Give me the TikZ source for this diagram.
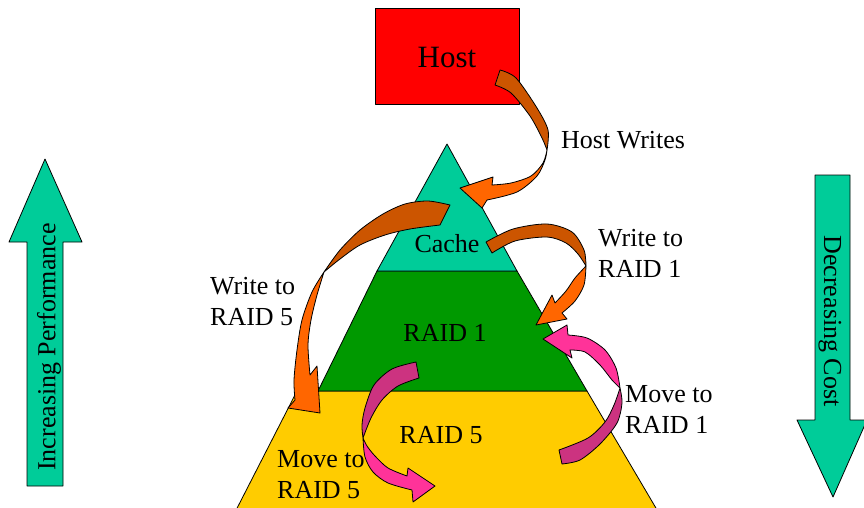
\documentclass[tikz,border=0pt]{standalone}
\usepackage{fontspec}
\setmainfont{Liberation Serif}
\definecolor{hostred}{RGB}{255,0,0}
\definecolor{cacheteal}{RGB}{0,204,153}
\definecolor{raidgreen}{RGB}{0,153,0}
\definecolor{raidyellow}{RGB}{255,204,0}
\definecolor{backorange}{RGB}{204,85,0}
\definecolor{frontorange}{RGB}{255,102,0}
\definecolor{backpink}{RGB}{204,51,128}
\definecolor{frontpink}{RGB}{255,51,153}
\tikzset{
    lbl/.style={font=\fontsize{26}{31}\selectfont, inner sep=0pt, align=left},
    band/.style={draw=black, line width=0.8pt, line join=round},
}

\begin{document}
\begin{tikzpicture}[x=1pt, y=-1pt]
        \clip (0, 0) rectangle (864, 508);
        % pyramid
        \filldraw [band, fill=raidyellow] (297, 391) -- (587, 391) -- (663, 520) -- (231, 520) -- cycle;
        \filldraw [band, fill=raidgreen] (377, 271) -- (517, 271) -- (587, 391) -- (318, 391) -- cycle;
        \filldraw [band, fill=cacheteal] (447, 144) -- (517, 271) -- (377, 271) -- cycle;
        \node [lbl, anchor=base] (cache) at (447, 252) {Cache};
        \node [lbl, anchor=base] (raid1) at (445, 341) {RAID 1};
        \node [lbl, anchor=base] (raid5) at (441, 443) {RAID 5};
        % host
        \filldraw [band, fill=hostred] (375, 8) rectangle (519, 104);
        \node [font=\fontsize{31}{36}\selectfont, inner sep=0pt] (host) at (447, 58) {Host};
        % side arrows
        \filldraw [band, fill=cacheteal] (27, 486) -- (27, 242) -- (9, 242) -- (45, 159) -- (82, 242) -- (63, 242) -- (63, 486) -- cycle;
        \node [lbl, rotate=90] (perf) at (49, 347) {Increasing Performance};
        \filldraw [band, fill=cacheteal] (815, 175) -- (850, 175) -- (850, 420) -- (867, 420) -- (833, 497) -- (797, 420) -- (815, 420) -- cycle;
        \node [lbl, rotate=-90] (cost) at (830, 321) {Decreasing Cost};
        % host writes
        \filldraw [band, fill=backorange] plot [smooth] coordinates {(500, 70) (516, 78) (537, 108) (548, 130) (547, 150)}
            -- plot [smooth] coordinates {(547, 150) (542, 138) (530, 116) (511, 93) (495, 85)} -- cycle;
        \filldraw [band, fill=frontorange] plot [smooth] coordinates {(547, 150) (543, 163) (531, 176) (511, 183) (492, 185)}
            -- (493, 177) -- (460, 188) -- (482, 208) -- (487, 200)
            -- plot [smooth] coordinates {(487, 200) (517, 192) (537, 176) (545, 160) (547, 150)} -- cycle;
        \node [lbl, anchor=base west] (hostwrites) at (561, 148) {Host Writes};
        % write to raid 1
        \filldraw [band, fill=backorange] plot [smooth] coordinates {(486, 242) (513, 229) (547, 224) (572, 232) (584, 250) (586, 266)}
            -- plot [smooth] coordinates {(586, 266) (578, 254) (566, 243) (547, 237) (515, 241) (492, 253)} -- cycle;
        \filldraw [band, fill=frontorange] plot [smooth] coordinates {(586, 266) (584, 285) (575, 301) (562, 313)}
            -- (567, 319) -- (536, 325) -- (552, 295) -- (555, 303)
            -- plot [smooth] coordinates {(555, 303) (566, 291) (575, 278) (586, 266)} -- cycle;
        \node [lbl, anchor=base west] (wr1) at (598, 277) {Write to\\RAID 1};
        % write to raid 5
        \filldraw [band, fill=backorange] plot [smooth] coordinates {(450, 205) (428, 201) (405, 204) (383, 214) (360, 230) (340, 250) (324, 272)}
            -- plot [smooth] coordinates {(324, 272) (340, 259) (360, 245) (385, 235) (410, 229) (440, 225)} -- cycle;
        \filldraw [band, fill=frontorange] plot [smooth] coordinates {(324, 272) (312, 292) (302, 320) (297, 350) (294, 380) (295, 400)}
            -- (288, 408) -- (320, 413) -- (317, 366) -- (310, 375)
            -- plot [smooth] coordinates {(310, 375) (308, 345) (311, 320) (317, 295) (324, 272)} -- cycle;
        \node [lbl, anchor=base west] (wr5) at (210, 325) {Write to\\RAID 5};
        % move to raid 5
        \filldraw [band, fill=backpink] plot [smooth] coordinates {(416, 362) (392, 369) (374, 385) (365, 408) (362, 425) (363, 438)}
            -- plot [smooth] coordinates {(363, 438) (371, 418) (382, 400) (398, 386) (419, 378)} -- cycle;
        \filldraw [band, fill=frontpink] plot [smooth] coordinates {(363, 438) (365, 457) (373, 472) (388, 483) (412, 490)}
            -- (413, 502) -- (435, 486) -- (408, 468) -- (407, 476)
            -- plot [smooth] coordinates {(407, 476) (388, 468) (375, 456) (367, 446) (363, 438)} -- cycle;
        \node [lbl, anchor=base west] (mv5) at (277, 498) {Move to\\RAID 5};
        % move to raid 1
        \filldraw [band, fill=backpink] plot [smooth] coordinates {(562, 464) (580, 460) (600, 444) (617, 423) (622, 403) (620, 388)}
            -- plot [smooth] coordinates {(620, 388) (614, 405) (605, 422) (588, 438) (559, 450)} -- cycle;
        \filldraw [band, fill=frontpink] plot [smooth] coordinates {(620, 388) (616, 368) (605, 350) (587, 338) (568, 335)}
            -- (567, 325) -- (543, 339) -- (572, 358) -- (570, 350)
            -- plot [smooth] coordinates {(570, 350) (585, 352) (600, 365) (612, 380) (620, 388)} -- cycle;
        \node [lbl, anchor=base west] (mv1) at (625, 433) {Move to\\RAID 1};
    \end{tikzpicture}
\end{document}
